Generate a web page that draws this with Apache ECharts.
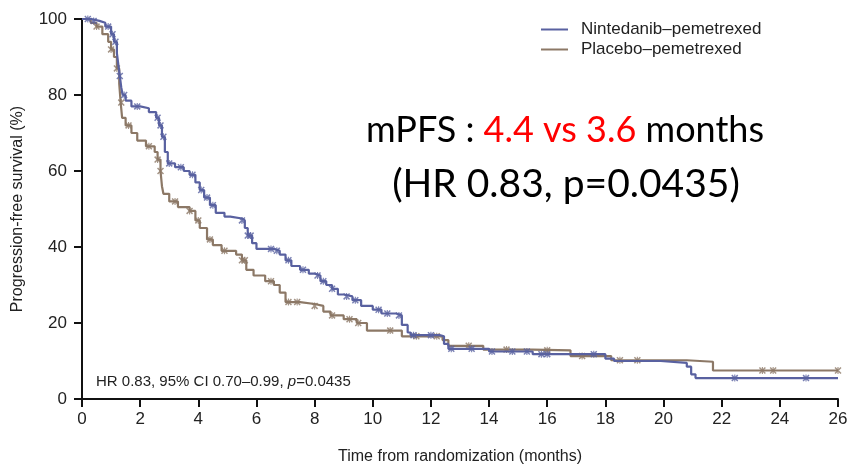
<!DOCTYPE html>
<html>
<head>
<meta charset="utf-8">
<script src="https://cdn.jsdelivr.net/npm/echarts@6/dist/echarts.min.js"></script>
<style>html,body{margin:0;padding:0;background:#fff}#c{width:852px;height:470px}</style>
</head>
<body>
<div id="c"></div>
<script>
// Kaplan-Meier curves: [time (months), PFS (%)]
const seriesNames = ['Nintedanib\u2013pemetrexed', 'Placebo\u2013pemetrexed'];
const nintedanibTimes = [0,0.3,0.6,0.8,1.0,1.1,1.2,1.25,1.3,1.35,1.4,1.5,1.7,2.0,2.3,2.55,2.65,2.75,2.85,2.95,3.2,3.5,3.7,3.9,4.05,4.2,4.4,4.6,4.9,5.1,5.5,5.6,5.7,5.85,6.0,6.6,6.8,7.0,7.2,7.5,7.8,8.0,8.2,8.4,8.6,8.8,9.0,9.3,9.6,10.0,10.3,10.8,11.0,11.2,11.3,12.3,12.45,12.6,14.0,15.5,18.0,18.3,19.9,20.8,20.95,21.1,26];
const nintedanibPFS   = [100,99.5,99,98,96,94,91,88,85,82,80,78.5,77,76.5,75.5,74,72,69,65,62,61,60,59,57,55,53,51,49,48,47.5,47,45,43,41,39.5,39,38,36.5,35,34,33,32.5,31,30,29,27.5,27,26,24.5,23.5,22.5,22,19.5,17.5,16.8,16.5,14.5,13.2,12.5,11.8,10.6,10.0,9.5,8.5,6.5,5.5,5.5];
const placeboTimes = [0,0.3,0.5,0.7,0.9,1.0,1.1,1.2,1.28,1.33,1.38,1.5,1.7,1.9,2.2,2.5,2.6,2.7,2.75,2.8,3.0,3.3,3.7,3.9,4.05,4.3,4.5,4.8,5.3,5.5,5.65,5.9,6.3,6.6,6.8,7.0,7.5,8.0,8.3,8.55,9.0,9.45,9.8,11.0,12.4,12.6,13.8,15.5,16.8,18.2,20.8,21.7,26];
const placeboPFS   = [100,99,98,96,94,92,90,87,83,78,74,72,70,68,66.5,65,63,60,56,54,52,50.5,49.5,47,45,42,40.5,39,38,36.5,34,32.5,31,30,28,25.5,25,24.5,23,22,21,20,18,16.5,15.5,14,13,12.8,11.3,10.2,9.8,7.5,7.5];
// censoring times (months)
const nintedanibCensored = [0.2,0.4,0.9,1.05,1.15,1.3,1.45,1.9,2.6,2.7,2.8,3.0,3.4,3.8,4.1,4.3,4.5,5.5,5.7,5.8,6.5,6.7,7.1,7.6,8.1,8.3,8.6,9.1,9.4,10.2,10.5,10.9,11.4,12.0,12.7,13.4,14.1,14.8,15.3,15.8,16.0,17.6,22.45,24.9];
const placeboCensored = [0.5,1.0,1.2,1.35,1.6,2.3,2.6,2.7,3.2,3.7,4.0,4.4,4.9,5.5,5.6,6.5,7.1,7.4,8.0,8.6,9.2,9.5,10.6,11.5,12.2,13.3,14.6,16.0,17.2,18.5,19.1,23.4,23.77,26];
const xTicks = [0,2,4,6,8,10,12,14,16,18,20,22,24,26];
const yTicks = [0,20,40,60,80,100];

const BLUE = '#5961a0', BROWN = '#8c7866';
function pairs(t, s){ return t.map((v,i)=>[v, s[i]]); }
function stepAt(t, s, x){ let v = s[0]; for (let i=0;i<t.length;i++){ if (t[i] <= x) v = s[i]; } return v; }
function censor(ct, t, s){ return ct.map(x => [x, stepAt(t, s, x)]); }
const cross = 'path://M0,1.5L1.5,0L10,8.5L8.5,10Z M8.5,0L10,1.5L1.5,10L0,8.5Z M4.2,0H5.8V10H4.2Z';
const FONT = '"Liberation Sans", Arial, sans-serif';
const BIG = 'Lato, "Open Sans", sans-serif';

const chart = echarts.init(document.getElementById('c'), null, {renderer:'canvas'});
chart.setOption({
  animation: false,
  backgroundColor: '#fff',
  grid: {left: 82, right: 14, top: 19, bottom: 70},
  legend: {
    data: seriesNames,
    orient: 'vertical',
    left: 536, top: 16,
    icon: 'rect', itemWidth: 27, itemHeight: 2, itemGap: 3,
    textStyle: {fontFamily: FONT, fontSize: 17, color: '#222', padding: [0,0,0,8], lineHeight: 16}
  },
  xAxis: {
    type: 'value', min: 0, max: 26, interval: 2,
    name: 'Time from randomization (months)', nameLocation: 'middle', nameGap: 50,
    nameTextStyle: {fontFamily: FONT, fontSize: 16, color: '#222'},
    axisLine: {lineStyle: {color: '#111', width: 2}},
    axisTick: {length: 8, lineStyle: {width: 2, color: '#111'}},
    axisLabel: {fontFamily: FONT, fontSize: 17, color: '#222', margin: 12,
      formatter: v => xTicks.includes(v) ? String(v) : ''},
    splitLine: {show: false}
  },
  yAxis: {
    type: 'value', min: 0, max: 100, interval: 20,
    name: 'Progression-free survival (%)', nameLocation: 'middle', nameGap: 56,
    nameTextStyle: {fontFamily: FONT, fontSize: 16, color: '#222'},
    axisLine: {show: true, lineStyle: {color: '#111', width: 2}},
    axisTick: {show: true, length: 8, lineStyle: {width: 2, color: '#111'}},
    axisLabel: {fontFamily: FONT, fontSize: 17, color: '#222', margin: 15,
      formatter: v => yTicks.includes(v) ? String(v) : ''},
    splitLine: {show: false}
  },
  series: [
    {name: seriesNames[1], type: 'line', step: 'end', data: pairs(placeboTimes, placeboPFS),
     showSymbol: false, lineStyle: {color: BROWN, width: 2.2}, itemStyle: {color: BROWN}, z: 2},
    {name: seriesNames[0], type: 'line', step: 'end', data: pairs(nintedanibTimes, nintedanibPFS),
     showSymbol: false, lineStyle: {color: BLUE, width: 2.2}, itemStyle: {color: BLUE}, z: 3},
    {name: 'pc', type: 'scatter', data: censor(placeboCensored, placeboTimes, placeboPFS),
     symbol: cross, symbolSize: 7, itemStyle: {color: BROWN}, z: 2},
    {name: 'nc', type: 'scatter', data: censor(nintedanibCensored, nintedanibTimes, nintedanibPFS),
     symbol: cross, symbolSize: 7, itemStyle: {color: BLUE}, z: 3}
  ],
  graphic: [
    {type: 'text', left: 96, top: 374, style: {
      text: '{n|HR 0.83, 95% CI 0.70\u20130.99, }{i|p}{n|=0.0435}',
      rich: {n: {fontFamily: FONT, fontSize: 15, fill: '#222'}, i: {fontFamily: FONT, fontSize: 15, fontStyle: 'italic', fill: '#222'}}
    }},
    {type: 'text', x: 565, y: 130, style: {
      text: '{k|mPFS : }{r|4.4 vs 3.6}{k| months}', align: 'center', verticalAlign: 'middle',
      rich: {k: {fontFamily: BIG, fontSize: 36, fill: '#000'},
             r: {fontFamily: BIG, fontSize: 36, fill: '#ff0000'}}
    }},
    {type: 'text', x: 566, y: 184, style: {
      text: '(HR 0.83, p=0.0435)', align: 'center', verticalAlign: 'middle',
      fontFamily: BIG, fontSize: 39, fill: '#000'
    }}
  ]
});
</script>
</body>
</html>
